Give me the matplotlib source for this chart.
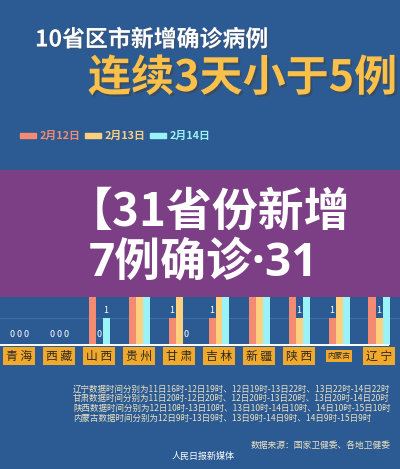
import matplotlib.pyplot as plt
import matplotlib.patheffects as pe
import numpy as np

plt.rcParams['font.family'] = ['Noto Sans CJK SC', 'DejaVu Sans']

# data: new confirmed cases per province on 3 days
provinces = ['青海', '西藏', '山西', '贵州', '甘肃', '吉林', '新疆', '陕西', '内蒙古', '辽宁']
feb12 = [0, 0, 2, 3, 1, 1, 3, 3, 1, 2]
feb13 = [0, 0, 0, 2, 2, 3, 4, 1, 2, 1]
feb14 = [0, 0, 1, 2, 0, 2, 3, 2, 2, 3]
days = ['2月12日', '2月13日', '2月14日']
colors = ['#f58a72', '#fdd07e', '#9af3f6']

notes = [
    '辽宁数据时间分别为11日16时-12日19时、12日19时-13日22时、13日22时-14日22时',
    '甘肃数据时间分别为11日20时-12日20时、12日20时-13日20时、13日20时-14日20时',
    '陕西数据时间分别为12日10时-13日10时、13日10时-14日10时、14日10时-15日10时',
    '内蒙古数据时间分别为12日9时-13日9时、13日9时-14日9时、14日9时-15日9时',
]

bg = '#2c5a93'
W, H = 400, 469
fig = plt.figure(figsize=(W / 100, H / 100), dpi=100, facecolor=bg)

def fy(py):
    # pixel from top -> figure fraction
    return 1 - py / H

# title
fig.text(35 / W, fy(40), '10省区市新增确诊病例', color='white', fontsize=16.5,
         fontweight='heavy', va='center', ha='left',
         path_effects=[pe.withSimplePatchShadow(offset=(1, -1), alpha=0.4)])
fig.text(88 / W, fy(78), '连续3天小于5例', color='#fbc04a', fontsize=31,
         fontweight='heavy', va='center', ha='left',
         path_effects=[pe.withSimplePatchShadow(offset=(1.5, -1.5), alpha=0.4)])

# legend
lx = [20, 85, 150]
for x, d, c in zip(lx, days, colors):
    fig.patches.append(plt.Rectangle((x / W, fy(138)), 16 / W, 4.5 / H,
                                     transform=fig.transFigure, color=c))
    fig.text((x + 20) / W, fy(136), d, color=c, fontsize=7.8,
             fontweight='bold', va='center', ha='left')

# bar axes: baseline at y=345 px, 1 case = 27.5 px
base = 345
unit = 27.5
top = 170
ax = fig.add_axes([0, fy(base), 1, (base - top) / H])
ax.set_facecolor(bg)
ax.set_xlim(-19 / 40, (W - 19) / 40)
ax.set_ylim(0, (base - top) / unit)
for s in ax.spines.values():
    s.set_visible(False)
ax.set_xticks([])
ax.set_yticks([])
for k in range(1, 7):
    ax.axhline(k, color='#5a80b0', lw=0.6, alpha=0.6, zorder=0)

x = np.arange(len(provinces))
bw = 0.175
for j, vals in enumerate([feb12, feb13, feb14]):
    xs = x + (j - 1) * bw
    ax.bar(xs, vals, width=bw, color=colors[j], zorder=2)
    for xi, v in zip(xs, vals):
        if v >= 2:
            continue  # hidden under the banner anyway
        ax.annotate(str(v), (xi, v), xytext=(0, 4 if v == 0 else 2),
                    textcoords='offset points', ha='center', va='bottom',
                    color='white', fontsize=6.5, zorder=3)

ax.plot([0, 388 / W], [fy(base), fy(base)], transform=fig.transFigure,
        color='white', lw=1.4, clip_on=False, zorder=4)

# category labels
for i, p in enumerate(provinces):
    fs = 5.5 if len(p) > 2 else 8.5
    fig.text((19 + 40 * i) / W, fy(356), p if len(p) > 2 else p[0] + ' ' + p[1],
             ha='center', va='center', fontsize=fs, color='#2a2a2a',
             bbox=dict(boxstyle='square,pad=0.25', fc='#f2a92a', ec='none'))

# purple overlay band
band = fig.add_axes([0, fy(297), 1, (297 - 170) / H])
band.set_facecolor('#7c3f86')
band.set_xlim(0, W)
band.set_ylim(297, 170)
band.set_xticks([])
band.set_yticks([])
for s in band.spines.values():
    s.set_visible(False)
band.text(67, 213, '【31省份新增', color='white', fontsize=33,
          fontweight='bold', va='center', ha='left')
band.text(89, 263, '7例确诊·31', color='white', fontsize=33,
          fontweight='bold', va='center', ha='left',
          family=['Open Sans', 'Noto Sans CJK SC'])

# footnotes
for k, n in enumerate(notes):
    fig.text(73 / W, fy(389 + 9.7 * k), n, color='#ece2c2', fontsize=6.1,
             va='center', ha='left')
fig.text(391 / W, fy(445), '数据来源：国家卫健委、各地卫健委', color='#ece2c2',
         fontsize=6.3, va='center', ha='right')
fig.text(203 / W, fy(456), '人民日报新媒体', color='white', fontsize=6.5,
         va='center', ha='center', style='italic')

fig.savefig('out.png', dpi=100, facecolor=bg)
